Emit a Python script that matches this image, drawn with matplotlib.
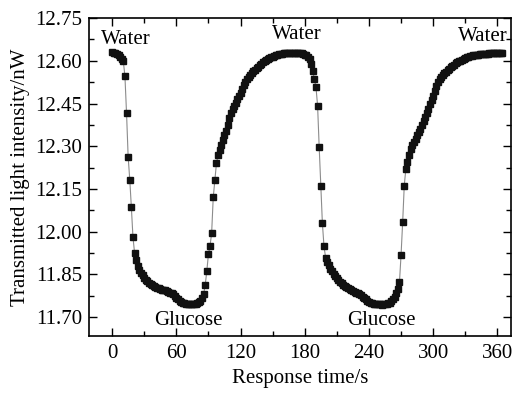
import numpy as np
import matplotlib
matplotlib.use("Agg")
import matplotlib.pyplot as plt
from matplotlib.ticker import MultipleLocator

plt.rcParams["font.family"] = ["Liberation Serif", "DejaVu Serif"]
plt.rcParams["font.size"] = 15

# sampling period of the detector (s)
sample_period = 1.5

# transmitted light intensity (nW), one value per sample
intensity = [
    # water baseline
    12.630, 12.628, 12.626, 12.623, 12.619, 12.614, 12.608, 12.598,
    # glucose injected, first drop
    12.545, 12.415, 12.262, 12.183, 12.085, 11.980, 11.925,
    # first glucose plateau
    11.900, 11.880, 11.866, 11.855, 11.846, 11.838, 11.831, 11.825, 11.820, 11.815,
    11.811, 11.808, 11.805, 11.803, 11.801, 11.798, 11.796, 11.794, 11.795, 11.791,
    11.788, 11.786, 11.784, 11.781, 11.775, 11.768, 11.762, 11.757, 11.753, 11.750,
    11.748, 11.746, 11.745, 11.745, 11.744, 11.745, 11.746, 11.747, 11.749, 11.752,
    11.758,
    # water again, first rise
    11.768, 11.780, 11.812, 11.862, 11.920, 11.950, 11.994, 12.120, 12.180, 12.240,
    12.268,
    # recovery to water level
    12.285, 12.305, 12.322, 12.338, 12.352, 12.375, 12.400, 12.418, 12.430, 12.442,
    12.453, 12.465, 12.476, 12.487, 12.500, 12.515, 12.527, 12.536, 12.543, 12.550,
    12.557, 12.563, 12.569, 12.575, 12.580, 12.585, 12.590, 12.595, 12.599, 12.603,
    12.606, 12.609, 12.612, 12.615, 12.617, 12.619, 12.621, 12.623, 12.624, 12.625,
    12.626, 12.626, 12.627, 12.627, 12.627, 12.628, 12.628, 12.628, 12.628, 12.627,
    12.627, 12.626, 12.624, 12.622, 12.619, 12.614,
    # second drop
    12.605, 12.590, 12.565, 12.536, 12.507, 12.443, 12.297, 12.162, 12.029, 11.948,
    11.909,
    # second glucose plateau
    11.895, 11.882, 11.870, 11.860, 11.851, 11.843, 11.836, 11.829, 11.823, 11.818,
    11.813, 11.809, 11.805, 11.801, 11.798, 11.795, 11.792, 11.789, 11.786, 11.783,
    11.780, 11.776, 11.772, 11.767, 11.762, 11.757, 11.753, 11.750, 11.748, 11.746,
    11.745, 11.744, 11.745, 11.744, 11.743, 11.744, 11.745, 11.746, 11.748, 11.750,
    11.755, 11.762,
    # second rise
    11.772, 11.785, 11.800, 11.822, 11.918, 12.033, 12.162, 12.221, 12.245, 12.268,
    12.290, 12.303,
    # second recovery
    12.315, 12.325, 12.338, 12.350, 12.362, 12.375, 12.390, 12.403, 12.418, 12.432,
    12.447, 12.462, 12.478, 12.495, 12.512, 12.527, 12.535, 12.542, 12.549, 12.556,
    12.562, 12.568, 12.573, 12.578, 12.583, 12.587, 12.591, 12.595, 12.598, 12.601,
    12.604, 12.607, 12.610, 12.612, 12.614, 12.616, 12.618, 12.619, 12.620, 12.621,
    12.622, 12.623, 12.624, 12.624, 12.625, 12.625, 12.625, 12.626, 12.626, 12.626,
    12.626, 12.626, 12.626, 12.626, 12.626, 12.626,
]
time_s = np.arange(len(intensity)) * sample_period

# labels of the solution in the cell
phase_labels = ["Water", "Glucose", "Water", "Glucose", "Water"]
phase_t = [13, 71, 173, 252, 346]
phase_y = [12.676, 11.686, 12.692, 11.686, 12.686]

x_ticks = [0, 60, 120, 180, 240, 300, 360]
y_ticks = [11.70, 11.85, 12.00, 12.15, 12.30, 12.45, 12.60, 12.75]

fig = plt.figure(figsize=(5.18, 3.94), dpi=100)
ax = fig.add_axes([0.172, 0.147, 0.814, 0.807])

ax.plot(time_s, intensity, color="#8c8c8c", lw=0.8, zorder=1)
ax.plot(time_s, intensity, ls="none", marker="s", ms=4, color="#111111",
        mec="#111111", zorder=2)

for lab, t, y in zip(phase_labels, phase_t, phase_y):
    ax.text(t, y, lab, ha="center", va="center")

ax.set_xlim(-21.5, 372.5)
ax.set_ylim(11.633, 12.75)
ax.set_xticks(x_ticks)
ax.set_yticks(y_ticks)
ax.set_yticklabels([f"{v:.2f}" for v in y_ticks])
ax.xaxis.set_minor_locator(MultipleLocator(30))
ax.yaxis.set_minor_locator(MultipleLocator(0.075))
ax.tick_params(which="both", direction="in", top=True, right=True, width=1.0)
ax.tick_params(which="major", length=6)
ax.tick_params(which="minor", length=3.5)
ax.tick_params(axis="x", pad=6)
ax.tick_params(axis="y", pad=5)
for sp in ax.spines.values():
    sp.set_linewidth(1.2)

ax.set_xlabel("Response time/s", labelpad=4)
ax.set_ylabel("Transmitted light intensity/nW", labelpad=4)

fig.savefig("out.png", dpi=100)
